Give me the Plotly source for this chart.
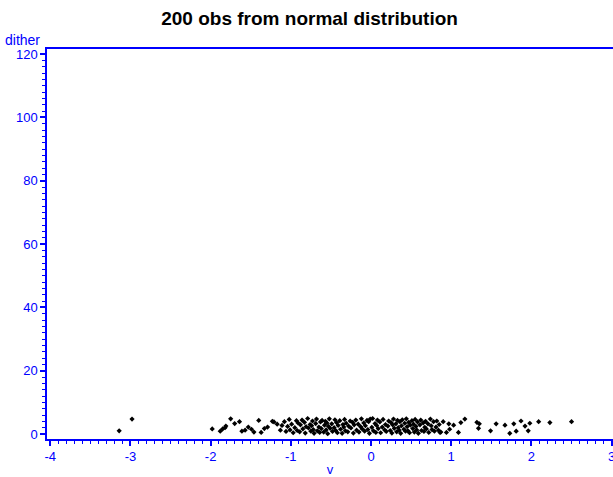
import plotly.graph_objects as go

# Observed values of v (sample from a normal distribution), grouped by region
v_left = [-3.14, -2.98, -1.98, -1.88, -1.85, -1.82, -1.81, -1.75, -1.70, -1.64,
          -1.61, -1.57, -1.53, -1.49, -1.46, -1.40, -1.37, -1.33, -1.29, -1.23,
          -1.21, -1.17, -1.13, -1.11]
d_left = [1.0, 4.7, 1.6, 0.9, 1.6, 2.0, 2.5, 4.8, 3.3, 3.9,
          0.9, 1.2, 2.2, 1.5, 0.6, 4.3, 0.5, 1.7, 2.2, 4.0,
          3.8, 3.1, 1.2, 2.7]

v_mid = [-1.08, -1.06, -1.04, -1.02, -1.01,
         -0.99, -0.97, -0.95, -0.93, -0.92, -0.91,
         -0.89, -0.88, -0.86, -0.85, -0.83, -0.82, -0.81,
         -0.79, -0.78, -0.76, -0.75, -0.74, -0.73, -0.72, -0.71,
         -0.69, -0.68, -0.67, -0.65, -0.64, -0.63, -0.62, -0.61,
         -0.59, -0.58, -0.57, -0.56, -0.55, -0.54, -0.53, -0.52, -0.51,
         -0.49, -0.48, -0.46, -0.45, -0.44, -0.43, -0.42, -0.41,
         -0.39, -0.38, -0.36, -0.35, -0.34, -0.33, -0.32, -0.31,
         -0.29, -0.28, -0.26, -0.25, -0.23, -0.22, -0.21,
         -0.19, -0.18, -0.16, -0.15, -0.13, -0.12, -0.11,
         -0.09, -0.08, -0.07, -0.05, -0.04, -0.03, -0.02, -0.01,
         0.01, 0.02, 0.03, 0.05, 0.06, 0.07, 0.08, 0.09,
         0.11, 0.12, 0.14, 0.15, 0.17, 0.18, 0.19,
         0.21, 0.22, 0.24, 0.25, 0.26, 0.27, 0.28, 0.29,
         0.31, 0.32, 0.33, 0.34, 0.35, 0.36, 0.37, 0.38, 0.39,
         0.41, 0.42, 0.43, 0.44, 0.45, 0.46, 0.47, 0.48, 0.49,
         0.51, 0.52, 0.53, 0.54, 0.55, 0.56, 0.57, 0.58, 0.59,
         0.61, 0.62, 0.63, 0.65, 0.66, 0.67, 0.68, 0.69,
         0.71, 0.72, 0.74, 0.75, 0.76, 0.78, 0.79,
         0.81, 0.82, 0.84, 0.85, 0.87]
d_mid = [3.9, 0.8, 2.4, 4.6, 1.3,
         3.1, 0.4, 2.0, 4.2, 1.1, 3.5,
         0.7, 2.9, 4.4, 1.6, 3.7, 0.3, 2.3,
         4.9, 1.9, 3.0, 0.9, 2.6, 4.1, 1.4, 0.2,
         3.3, 4.7, 1.0, 2.2, 0.5, 3.8, 1.7, 4.3,
         0.6, 2.8, 4.0, 1.3, 3.5, 0.1, 2.4, 4.8, 1.8,
         3.2, 0.8, 2.0, 4.5, 1.1, 3.6, 0.4, 2.7,
         4.2, 1.5, 0.2, 3.0, 2.2, 4.6, 1.0, 3.4,
         0.7, 2.5, 4.1, 1.9, 3.7, 0.3, 2.9,
         4.4, 1.2, 3.1, 0.6, 2.3, 4.8, 1.6,
         3.5, 0.9, 2.6, 4.3, 1.4, 3.9, 0.2, 4.7,
         2.1, 4.9, 1.0, 3.3, 0.5, 2.7, 4.4, 1.7,
         3.8, 0.4, 2.2, 4.6, 1.3, 3.0, 0.8,
         2.5, 4.1, 1.1, 3.6, 0.3, 2.9, 4.7, 1.8,
         3.2, 0.7, 4.3, 2.0, 1.2, 3.9, 0.2, 2.6, 4.5,
         1.5, 3.4, 0.9, 4.8, 2.3, 1.0, 3.7, 0.4, 2.8,
         4.2, 1.7, 3.1, 0.6, 4.6, 2.4, 1.3, 3.8, 0.2,
         2.9, 4.4, 1.1, 3.5, 0.8, 2.1, 4.0, 1.6,
         3.2, 0.5, 4.7, 2.6, 1.4, 3.9, 0.9,
         2.2, 4.1, 1.2, 3.0, 0.6]

v_right = [0.86, 0.90, 0.94, 0.97, 0.98, 1.03, 1.09, 1.12, 1.17, 1.32,
           1.34, 1.35, 1.49, 1.56, 1.67, 1.73, 1.78, 1.81, 1.87, 1.92,
           1.96, 1.98, 2.09, 2.23, 2.50]
d_right = [0.5, 3.9, 0.5, 3.2, 1.5, 2.8, 0.5, 3.6, 4.7, 3.7,
           1.8, 3.2, 1.0, 3.2, 2.8, 0.2, 3.2, 0.9, 4.1, 2.5,
           1.0, 3.4, 3.9, 3.6, 3.9]

v = v_left + v_mid + v_right
dither = d_left + d_mid + d_right

x_ticks = [-4, -3, -2, -1, 0, 1, 2, 3]
y_ticks = [0, 20, 40, 60, 80, 100, 120]

AXIS_BLUE = "#0000ff"
FONT = "Liberation Sans, Arial, sans-serif"

fig = go.Figure(
    go.Scatter(
        x=v, y=dither, mode="markers",
        marker=dict(symbol="diamond", size=4, color="black", line=dict(width=0)),
        hoverinfo="x+y",
    )
)

fig.update_layout(
    width=613, height=477,
    margin=dict(l=47, r=0, t=49, b=38, autoexpand=False),
    paper_bgcolor="white", plot_bgcolor="white",
    showlegend=False,
    font=dict(family=FONT, color=AXIS_BLUE, size=13),
    title=dict(
        text="<b>200 obs from normal distribution</b>",
        x=0.505, xanchor="center", y=0.962, yanchor="middle",
        font=dict(family=FONT, size=19, color="black"),
    ),
    annotations=[
        dict(text="dither", xref="paper", yref="paper", x=-0.0785, y=1.024,
             xanchor="left", yanchor="middle", showarrow=False,
             font=dict(family=FONT, size=14, color=AXIS_BLUE)),
    ],
)

fig.update_xaxes(
    range=[-4.04, 3.017], tickvals=x_ticks, ticktext=[str(t) for t in x_ticks],
    automargin=False,
    showgrid=False, zeroline=False,
    showline=True, linecolor=AXIS_BLUE, linewidth=1.5, mirror=True,
    ticks="outside", ticklen=5, tickcolor=AXIS_BLUE, tickwidth=1.5,
    ticklabeloverflow="allow",
    tickfont=dict(family=FONT, size=13, color=AXIS_BLUE),
    minor=dict(dtick=0.1, ticks="outside", ticklen=3, tickcolor=AXIS_BLUE,
               tickwidth=1.2, showgrid=False),
    title=dict(text="v", font=dict(family=FONT, size=13, color=AXIS_BLUE), standoff=8),
)

fig.update_yaxes(
    range=[-1.58, 121.6], tickvals=y_ticks, ticktext=[str(t) for t in y_ticks],
    automargin=False,
    showgrid=False, zeroline=False,
    showline=True, linecolor=AXIS_BLUE, linewidth=1.5, mirror=False,
    ticks="outside", ticklen=5, tickcolor=AXIS_BLUE, tickwidth=1.5,
    tickfont=dict(family=FONT, size=13, color=AXIS_BLUE),
    minor=dict(dtick=2, ticks="outside", ticklen=3, tickcolor=AXIS_BLUE,
               tickwidth=1.2, showgrid=False),
)

fig.write_html("out.html")
